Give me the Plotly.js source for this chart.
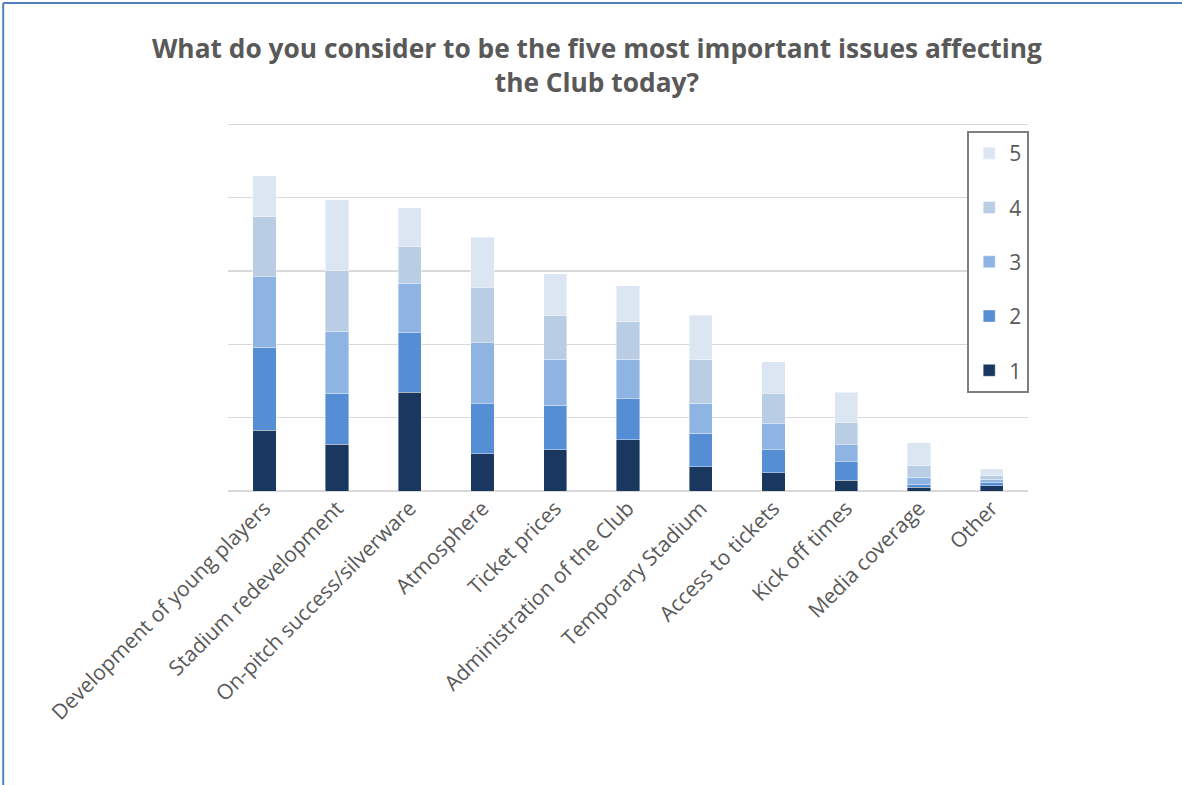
<!DOCTYPE html>
<html>
<head>
<meta charset="utf-8">
<script src="https://cdn.plot.ly/plotly-3.0.1.min.js"></script>
<style>html,body{margin:0;padding:0;background:#fff;}#chart{width:1182px;height:785px;}</style>
</head>
<body>
<div id="chart"></div>
<script>
const categories = ["Development of young players","Stadium redevelopment","On-pitch success/silverware","Atmosphere","Ticket prices","Administration of the Club","Temporary Stadium","Access to tickets","Kick off times","Media coverage","Other"];
const rank1 = [83, 64, 135, 51, 56, 70, 33, 25, 15, 5, 7];
const rank2 = [113, 69, 81, 68, 61, 56, 46, 31, 25, 4.5, 5];
const rank3 = [96, 84, 67, 83, 63, 54, 41, 36, 23, 9, 4];
const rank4 = [82, 84, 50, 76, 60, 51, 59, 41, 31, 16, 4.5];
const rank5 = [56, 96, 53, 68, 56, 49, 61, 43, 41, 31, 10];
const seriesNames = ["1","2","3","4","5"];
const seriesValues = [rank1, rank2, rank3, rank4, rank5];
const seriesColors = ["#19375f","#558ed5","#8eb4e3","#b9cde5","#dce6f2"];

const traces = seriesValues.map((vals, i) => ({
  type: 'bar',
  name: seriesNames[i],
  x: categories,
  y: vals,
  width: 0.32,
  legendgroup: 'g' + i,
  legendrank: 1000 - i,
  marker: {color: seriesColors[i], line: {color: 'rgba(255,255,255,0.5)', width: 0.8}},
  hoverinfo: 'x+y+name'
}));

const layout = {
  width: 1182, height: 785,
  paper_bgcolor: '#ffffff', plot_bgcolor: '#ffffff',
  barmode: 'stack',
  margin: {l: 228, r: 154, t: 117, b: 294, pad: 0},
  title: {
    text: 'What do you consider to be the five most important issues affecting<br>the Club today?',
    font: {family: '"Open Sans", sans-serif', size: 26.3, color: '#595959', weight: 'bold'},
    xref: 'container', x: 0.505, xanchor: 'center',
    yref: 'container', y: 0.926, yanchor: 'middle'
  },
  xaxis: {
    type: 'category',
    tickangle: -45,
    tickfont: {family: '"Open Sans", sans-serif', size: 21, color: '#595959'},
    showgrid: false, showline: false, ticks: '', zeroline: false,
    fixedrange: true
  },
  yaxis: {
    range: [0, 510], dtick: 100, tick0: 0,
    showticklabels: false, ticks: '',
    showgrid: true, gridcolor: '#d9d9d9', gridwidth: 1.5,
    zeroline: true, zerolinecolor: '#d9d9d9', zerolinewidth: 1.5,
    showline: false, fixedrange: true
  },
  legend: {
    x: 0.924, xanchor: 'left', y: 0.9626, yanchor: 'top',
    traceorder: 'grouped', tracegroupgap: 24,
    bordercolor: '#7f7f7f', borderwidth: 2, bgcolor: '#ffffff',
    font: {family: '"Open Sans", sans-serif', size: 21, color: '#595959'}
  },
  shapes: [
    {type: 'line', xref: 'paper', yref: 'paper', x0: -0.281, x1: -0.281, y0: -0.8, y1: 1.305, line: {color: '#4f81bd', width: 2}},
    {type: 'line', xref: 'paper', yref: 'paper', x0: -0.281, x1: 1.2, y0: 1.305, y1: 1.305, line: {color: '#4f81bd', width: 2}}
  ]
};

Plotly.newPlot('chart', traces, layout, {displayModeBar: false, staticPlot: true});
</script>
</body>
</html>
